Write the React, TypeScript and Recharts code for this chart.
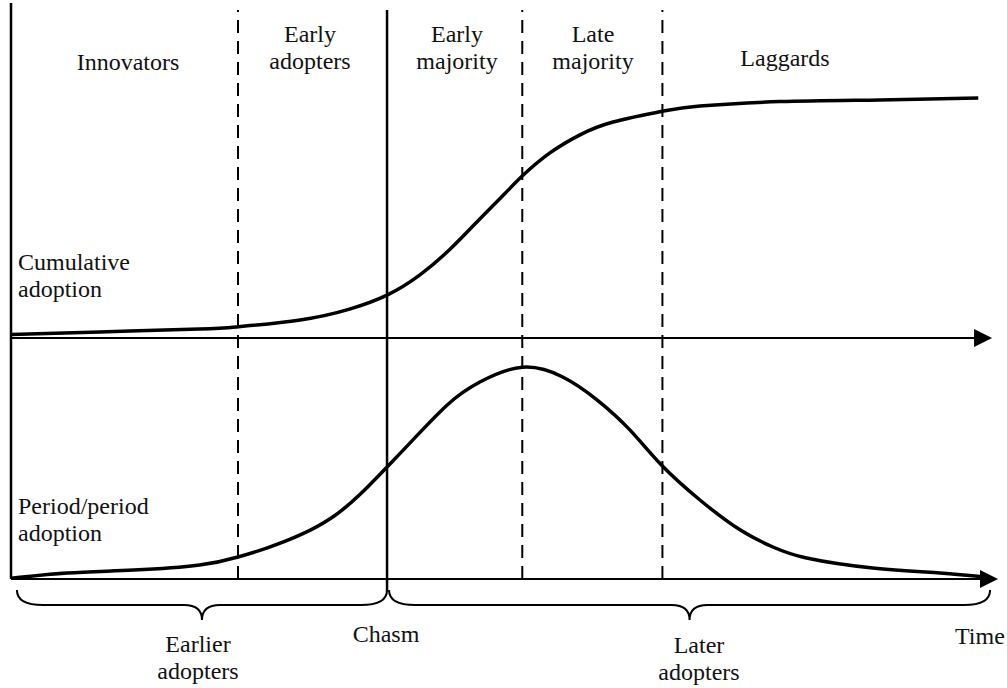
import { ComposedChart, Line, XAxis, YAxis, ReferenceLine, ReferenceArea, ReferenceDot } from 'recharts'

// time axis runs 0..100 (arbitrary units)
const cumTime = [0, 9, 19.1, 22.9, 29.3, 34.3, 38.1, 41.4, 44.5, 47.5, 50.1, 51.9, 54.6, 57.6, 61, 66.1, 69.8, 77.9, 88, 98]
const cumAdoption = [1.45, 2.5, 3.7, 4.6, 7.5, 12, 17.8, 26.1, 36.9, 49.4, 60.2, 67.6, 76.8, 84.2, 89.6, 94.2, 96.3, 98.1, 98.8, 99.6]

const periodTime = [0, 5.7, 12.4, 19.1, 23, 25.9, 29.3, 32.6, 35.4, 38.1, 40.7, 44.2, 47.5, 51.8, 55.9, 59.4, 62.7, 65.9, 69.8, 73.9, 77.2, 80.6, 87.3, 94.1, 98.7]
const periodAdoption = [0.3, 2.8, 4.2, 6.6, 10.4, 14.6, 20.8, 29.3, 40.1, 52.9, 65.6, 82.2, 93, 100, 95.4, 84.5, 70.4, 53.8, 37.3, 23.1, 15.1, 9.9, 5.2, 2.8, 0.9]

// phase boundaries on the time axis
const dashedBounds = [23, 51.8, 66]
const chasmAt = 38.1

const phaseLabels = [['Innovators'], ['Early', 'adopters'], ['Early', 'majority'], ['Late', 'majority'], ['Laggards']]
const curveLabels = [['Cumulative', 'adoption'], ['Period/period', 'adoption']]
const groupLabels = [['Earlier', 'adopters'], ['Chasm'], ['Later', 'adopters'], ['Time']]

const cumData = cumTime.map((t, i) => ({ t, v: cumAdoption[i] }))
const periodData = periodTime.map((t, i) => ({ t, v: periodAdoption[i] }))

const FONT = "'Liberation Serif', 'Times New Roman', Tinos, 'DejaVu Serif', serif"

function Brace(p: any) {
  const { x, y, width: w, height: h } = p
  const ym = y + h / 2
  const cx = x + w / 2
  const r = 26
  const r2 = 18
  const d = `M${x},${y} Q${x},${ym} ${x + r},${ym} L${cx - r2},${ym} Q${cx},${ym} ${cx},${y + h} Q${cx},${ym} ${cx + r2},${ym} L${x + w - r},${ym} Q${x + w},${ym} ${x + w},${y}`
  return <path d={d} fill="none" stroke="#000" strokeWidth={2} />
}

function Arrow(p: any) {
  const { cx, cy } = p
  return <path d={`M${cx},${cy} L${cx - 18},${cy - 9} L${cx - 18},${cy + 9} Z`} fill="#000" />
}

function Label({ lines, x, y, anchor = 'middle' }: { lines: string[]; x: number; y: number; anchor?: string }) {
  return (
    <text x={x} y={y} textAnchor={anchor as any} style={{ fontFamily: FONT, fontSize: 24 }} fill="#111">
      {lines.map((l, i) => (
        <tspan key={i} x={x} dy={i === 0 ? 0 : 27}>{l}</tspan>
      ))}
    </text>
  )
}

export default function App() {
  const phaseX = [128, 310, 457, 593, 785]
  const phaseY = [70, 42, 42, 42, 66]
  return (
    <div style={{ position: 'absolute', left: 0, top: 0, width: 1007, height: 688, background: '#fff', fontFamily: FONT }}>
      <ComposedChart width={1007} height={688} margin={{ top: 3, right: 9, bottom: 109, left: 11 }}>
        <XAxis type="number" dataKey="t" domain={[0, 100]} hide allowDataOverflow />
        <YAxis yAxisId="period" domain={[0, 272]} hide allowDataOverflow />
        <YAxis yAxisId="cum" domain={[-100, 139]} hide allowDataOverflow />

        {/* left axis */}
        <ReferenceLine yAxisId="period" ifOverflow="visible" segment={[{ x: 0, y: 0 }, { x: 0, y: 272 }]} stroke="#000" strokeWidth={2.5} />

        {dashedBounds.map(b => (
          <ReferenceLine key={b} yAxisId="period" ifOverflow="visible" segment={[{ x: b, y: 0 }, { x: b, y: 268.7 }]} stroke="#000" strokeWidth={2} strokeDasharray="13 8" />
        ))}
        <ReferenceLine yAxisId="period" ifOverflow="visible" segment={[{ x: chasmAt, y: -6 }, { x: chasmAt, y: 268.7 }]} stroke="#000" strokeWidth={2.5} />

        {/* horizontal axes with arrows */}
        <ReferenceLine yAxisId="cum" ifOverflow="visible" segment={[{ x: 0, y: 0 }, { x: 98, y: 0 }]} stroke="#000" strokeWidth={2} />
        <ReferenceDot yAxisId="cum" x={99.4} y={0} ifOverflow="visible" shape={Arrow} />
        <ReferenceLine yAxisId="period" ifOverflow="visible" segment={[{ x: 0, y: 0 }, { x: 99, y: 0 }]} stroke="#000" strokeWidth={2} />
        <ReferenceDot yAxisId="period" x={100} y={0} ifOverflow="visible" shape={Arrow} />

        {/* braces under the time axis */}
        <ReferenceArea yAxisId="period" ifOverflow="visible" x1={0.6} x2={chasmAt} y1={-5.2} y2={-19.4} shape={Brace} />
        <ReferenceArea yAxisId="period" ifOverflow="visible" x1={chasmAt + 0.2} x2={99.2} y1={-5.2} y2={-19.4} shape={Brace} />

        <Line yAxisId="cum" data={cumData} dataKey="v" type="natural" stroke="#000" strokeWidth={3.5} dot={false} isAnimationActive={false} />
        <Line yAxisId="period" data={periodData} dataKey="v" type="natural" stroke="#000" strokeWidth={3.5} dot={false} isAnimationActive={false} />
      </ComposedChart>

      <svg width={1007} height={688} style={{ position: 'absolute', left: 0, top: 0, pointerEvents: 'none' }}>
        {phaseLabels.map((lines, i) => (
          <Label key={i} lines={lines} x={phaseX[i]} y={phaseY[i]} />
        ))}
        <Label lines={curveLabels[0]} x={18} y={270} anchor="start" />
        <Label lines={curveLabels[1]} x={18} y={514} anchor="start" />
        <Label lines={groupLabels[0]} x={198} y={652} />
        <Label lines={groupLabels[1]} x={386} y={642} />
        <Label lines={groupLabels[2]} x={699} y={653} />
        <Label lines={groupLabels[3]} x={955} y={644} anchor="start" />
      </svg>
    </div>
  )
}
